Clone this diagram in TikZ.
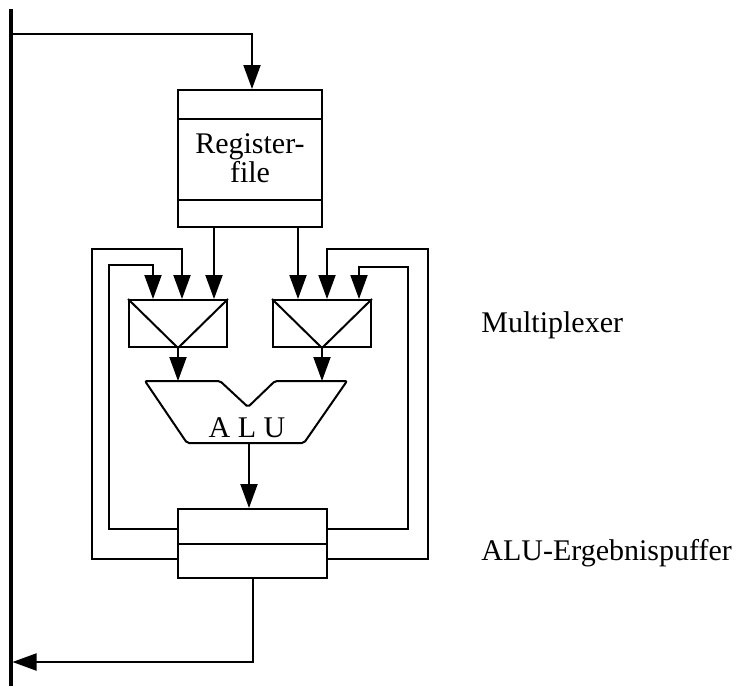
\documentclass[tikz,border=0pt]{standalone}
\usepackage{fontspec}
\setmainfont{Liberation Serif}
\usetikzlibrary{arrows.meta,positioning,calc}
\newcommand{\lblfont}{\fontsize{15}{14.5}\selectfont}
\tikzset{
  wire/.style={line width=1pt, draw=black},
  arr/.style={wire, -{Triangle[length=12pt,width=8.5pt]}},
  bus/.style={line width=2pt, draw=black},
  regbox/.style={draw, line width=1pt, minimum width=72pt, minimum height=68.5pt,
    inner sep=0pt, align=center, font=\lblfont},
  muxbox/.style={draw, line width=1pt, minimum width=49pt, minimum height=23.5pt, inner sep=0pt},
  bufbox/.style={draw, line width=1pt, minimum width=74.5pt, minimum height=34.5pt, inner sep=0pt},
  lbl/.style={font=\lblfont, inner sep=0pt}
}
\begin{document}
\begin{tikzpicture}[x=0.5pt,y=-0.5pt]
  \useasboundingbox (0,0) rectangle (739,686);
  % bus
  \coordinate (busT) at (10.5,9);
  \coordinate (busB) at (10.5,686);
  \coordinate (busOut) at (10.5,34);
  \coordinate (busIn) at (12.5,662);
  \draw[bus] (busT) -- (busB);

  % register file
  \node[regbox] (reg) at (250,158.5) {Register-\\file};
  \draw[wire] ([yshift=-15pt]reg.north west) -- ([yshift=-15pt]reg.north east);
  \draw[wire] ([yshift=14pt]reg.south west) -- ([yshift=14pt]reg.south east);
  \draw[arr] (busOut) -| ([xshift=1pt]reg.north);

  % multiplexers
  \foreach \m/\x in {muxL/178,muxR/322} {
    \node[muxbox] (\m) at (\x,323.5) {};
    \draw[wire] (\m.north west) -- (\m.south) -- (\m.north east);
  }
  \draw[arr] ([xshift=-18pt]reg.south) -- ([xshift=-18pt]reg.south |- muxL.north);
  \draw[arr] ([xshift=24pt]reg.south) -- ([xshift=24pt]reg.south |- muxR.north);

  % ALU
  \coordinate (aluinL) at (178,381);
  \coordinate (aluinR) at (322,381);
  \coordinate (aluout) at (249,443);
  \draw[wire, rounded corners=1pt] (145,381) -- (220,381) -- (248,407) -- (275,381)
    -- (347,381) -- (304,443) -- (187,443) -- cycle;
  \node[lbl] (alu) at (247,428) {A L U};
  \draw[arr] (muxL.south) -- (aluinL);
  \draw[arr] (muxR.south) -- (aluinR);

  % result buffer
  \node[bufbox] (buf) at (252.5,543.5) {};
  \draw[wire] (buf.west) -- (buf.east);
  \draw[arr] (aluout) -- (aluout |- buf.north);
  \draw[arr] (buf.south) |- (busIn);

  % feedback to the multiplexers
  \coordinate (fbLi) at (109,265);
  \coordinate (fbLo) at (92,249);
  \coordinate (fbRi) at (408,267);
  \coordinate (fbRo) at (428,249);
  \draw[arr] ([yshift=7.5pt]buf.west) -| (fbLi) -| ([xshift=-12.5pt]muxL.north);
  \draw[arr] ([yshift=-7.5pt]buf.west) -| (fbLo) -| ([xshift=2pt]muxL.north);
  \draw[arr] ([yshift=7.5pt]buf.east) -| (fbRi) -| ([xshift=18.5pt]muxR.north);
  \draw[arr] ([yshift=-7.5pt]buf.east) -| (fbRo) -| ([xshift=2.5pt]muxR.north);

  % labels
  \node[lbl, anchor=west] (muxlbl) at (481,325) {Multiplexer};
  \node[lbl, anchor=west] (buflbl) at (481,553) {ALU-Ergebnispuffer};
\end{tikzpicture}
\end{document}
